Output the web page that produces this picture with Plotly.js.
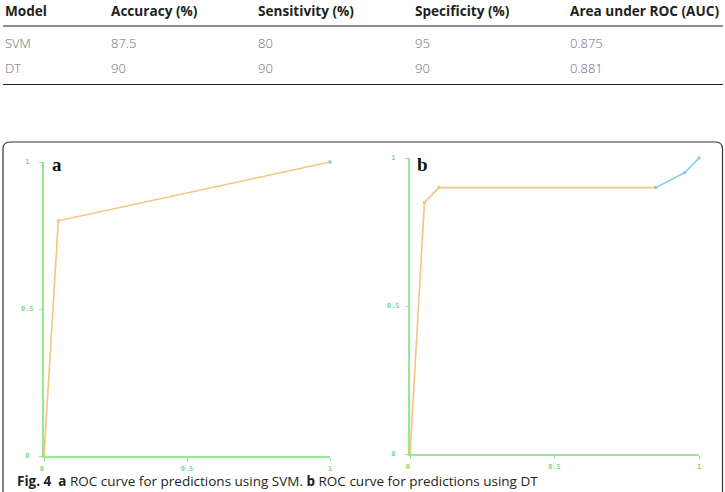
<!DOCTYPE html>
<html>
<head>
<meta charset="utf-8">
<script src="https://cdn.plot.ly/plotly-3.0.1.min.js"></script>
<style>
  html, body { margin: 0; padding: 0; background: #ffffff; }
  #fig { width: 725px; height: 492px; }
</style>
</head>
<body>
<div id="fig"></div>
<script>
// Summary table of the two classifiers
const tableHeader = ['Model', 'Accuracy (%)', 'Sensitivity (%)', 'Specificity (%)', 'Area under ROC (AUC)'];
const models = ['SVM', 'DT'];
const accuracy = ['87.5', '90'];
const sensitivity = ['80', '90'];
const specificity = ['95', '90'];
const auc = ['0.875', '0.881'];

// ROC points (false positive rate, true positive rate)
const svmFpr = [0, 0.05, 1];
const svmTpr = [0, 0.8, 1];
const dtFpr = [0, 0.05, 0.1, 0.85, 0.95, 1];
const dtTpr = [0, 0.85, 0.9, 0.9, 0.95, 1];

const tickVals = [0, 0.5, 1];
const tickLabels = ['0', '0.5', '1'];

const panelLabels = ['a', 'b'];
const captionParts = ['Fig. 4', 'a', 'ROC curve for predictions using SVM.', 'b', 'ROC curve for predictions using DT'];

// ---------- page geometry (pixels -> paper fractions) ----------
const W = 725, H = 492;
const px = v => v / W;
const py = v => 1 - v / H;

const ORANGE = '#f6c47f';
const BLUE = '#92c9ea';
const GREEN = '#93ea93';
const TICKGREEN = '#78dc78';

// Each curve is drawn orange up to splitAt, blue from there on
function rocTraces(fpr, tpr, splitAt, xa, ya) {
  const common = { type: 'scatter', mode: 'lines+markers', xaxis: xa, yaxis: ya,
                   cliponaxis: false, hoverinfo: 'skip', showlegend: false };
  return [
    Object.assign({}, common, {
      x: fpr.slice(0, splitAt + 1), y: tpr.slice(0, splitAt + 1),
      line: { color: ORANGE, width: 1.6 }, marker: { color: ORANGE, size: 3.5 }
    }),
    Object.assign({}, common, {
      x: fpr.slice(splitAt), y: tpr.slice(splitAt),
      line: { color: BLUE, width: 1.6 }, marker: { color: BLUE, size: 3.5 }
    })
  ];
}

const data = [].concat(
  rocTraces(svmFpr, svmTpr, svmFpr.length - 1, 'x', 'y'),
  rocTraces(dtFpr, dtTpr, 3, 'x2', 'y2')
);

// monospace labels: pad short ones so they sit centred like the wider "0.5"
const yTickText = tickLabels.map(t => t.length < 3 ? t + '\u00a0' : t);
const xTickText = tickLabels.map((t, i) => i === 0 ? t + '\u00a0' : t);
const tickFont = { family: 'DejaVu Sans Mono', size: 7, color: TICKGREEN, weight: 700 };

function xAxis(domain, anchor) {
  return {
    domain: domain, range: [0, 1], anchor: anchor,
    showline: true, linecolor: GREEN, linewidth: 2,
    showgrid: false, zeroline: false,
    ticks: 'outside', ticklen: 3, tickwidth: 1, tickcolor: GREEN,
    tickvals: tickVals, ticktext: xTickText, tickfont: tickFont,
    ticklabelstandoff: 2, fixedrange: true
  };
}
function yAxis(domain, anchor) {
  return {
    domain: domain, range: [0, 1], anchor: anchor,
    showline: true, linecolor: GREEN, linewidth: 2,
    showgrid: false, zeroline: false,
    ticks: 'outside', ticklen: 3, tickwidth: 1, tickcolor: GREEN,
    tickvals: tickVals, ticktext: yTickText, tickfont: tickFont,
    ticklabelstandoff: 4, fixedrange: true
  };
}

// ---------- table text ----------
const colX = [4, 110, 257, 413.5, 569];
const annotations = [];
const headFont = { family: 'Open Sans', size: 13.6, color: '#231f20', weight: 700 };
const cellFont = { family: 'Open Sans', size: 13, color: '#6d6e71', weight: 300 };

tableHeader.forEach((h, i) => annotations.push({
  xref: 'paper', yref: 'paper', x: px(colX[i] - 1), y: py(10.5),
  xanchor: 'left', yanchor: 'middle', showarrow: false,
  text: h, font: headFont
}));
const columns = [models, accuracy, sensitivity, specificity, auc];
const rowY = [43.5, 68.5];
models.forEach((m, r) => {
  columns.forEach((col, c) => annotations.push({
    xref: 'paper', yref: 'paper', x: px(colX[c] - 1), y: py(rowY[r]),
    xanchor: 'left', yanchor: 'middle', showarrow: false,
    text: col[r], font: cellFont
  }));
});

// panel letters
[50, 415].forEach((x0, i) => annotations.push({
  xref: 'paper', yref: 'paper', x: px(x0), y: py(164.5),
  xanchor: 'left', yanchor: 'middle', showarrow: false,
  text: '<b>' + panelLabels[i] + '</b>',
  font: { family: 'Liberation Serif', size: 19, color: '#111111' }
}));

// figure caption along the bottom of the frame
annotations.push({
  xref: 'paper', yref: 'paper', x: px(15), y: 0,
  xanchor: 'left', yanchor: 'bottom', showarrow: false,
  text: '<b>' + captionParts[0] + '</b>  <b>' + captionParts[1] + '</b> ' + captionParts[2] +
        ' <b>' + captionParts[3] + '</b> ' + captionParts[4],
  font: { family: 'Open Sans', size: 13.5, color: '#231f20' }
});

// ---------- rules and frame ----------
const r = 7;
const fx0 = px(3), fx1 = px(722.5), fy0 = py(142), fyB = -0.2;
const rx = r / W, ry = r / H;
const framePath =
  'M ' + fx0 + ' ' + fyB +
  ' L ' + fx0 + ' ' + (fy0 - ry) +
  ' Q ' + fx0 + ' ' + fy0 + ' ' + (fx0 + rx) + ' ' + fy0 +
  ' L ' + (fx1 - rx) + ' ' + fy0 +
  ' Q ' + fx1 + ' ' + fy0 + ' ' + fx1 + ' ' + (fy0 - ry) +
  ' L ' + fx1 + ' ' + fyB;

const shapes = [
  { type: 'line', xref: 'paper', yref: 'paper', x0: px(3), x1: px(723), y0: py(26), y1: py(26),
    line: { color: '#231f20', width: 1 } },
  { type: 'line', xref: 'paper', yref: 'paper', x0: px(3), x1: px(723), y0: py(84.5), y1: py(84.5),
    line: { color: '#231f20', width: 1 } },
  { type: 'path', xref: 'paper', yref: 'paper', path: framePath,
    line: { color: '#333333', width: 1.2 } }
];

const layout = {
  width: W, height: H, autosize: false,
  margin: { l: 0, r: 0, t: 0, b: 0, pad: 0 },
  paper_bgcolor: '#ffffff', plot_bgcolor: 'rgba(0,0,0,0)',
  showlegend: false,
  xaxis: xAxis([px(44), px(330)], 'y'),
  yaxis: yAxis([py(456), py(162)], 'x'),
  xaxis2: xAxis([px(410), px(699)], 'y2'),
  yaxis2: yAxis([py(454), py(158)], 'x2'),
  annotations: annotations,
  shapes: shapes
};

Plotly.newPlot('fig', data, layout, { displayModeBar: false, staticPlot: true });
</script>
</body>
</html>
